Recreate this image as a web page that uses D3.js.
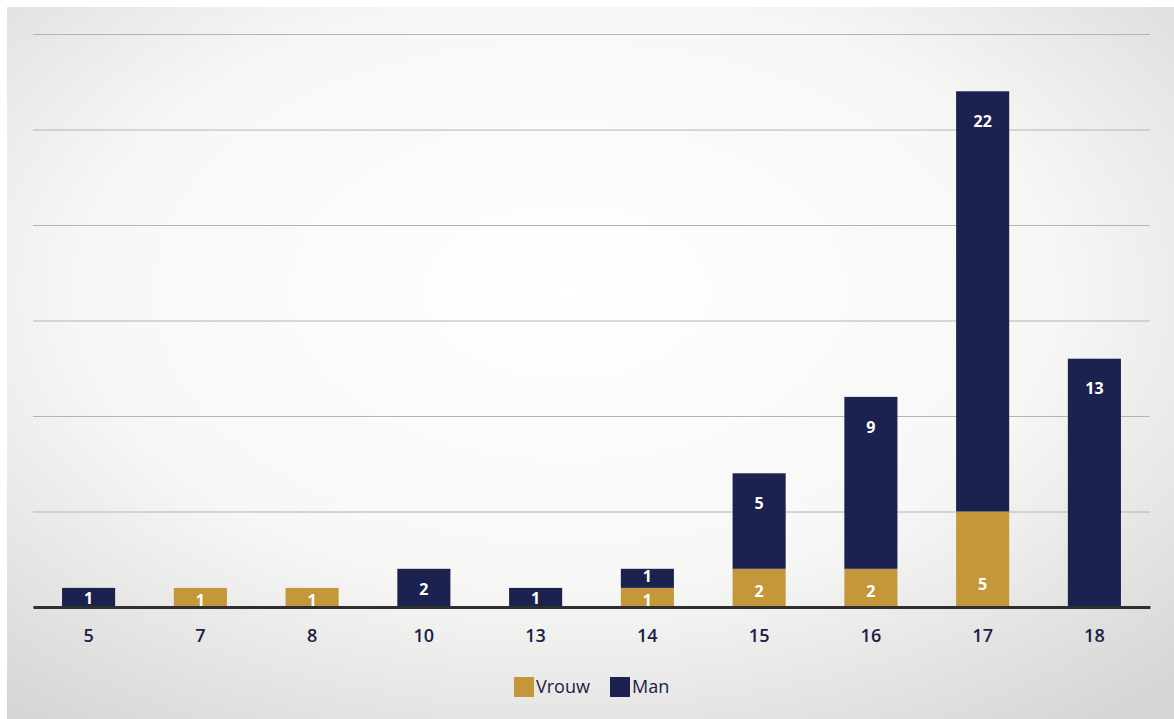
<!DOCTYPE html>
<html>
<head>
<meta charset="utf-8">
<script src="https://cdn.jsdelivr.net/npm/d3@7"></script>
<style>
  body { margin: 0; background: #fff; }
  svg { display: block; font-family: "Open Sans", "Lato", sans-serif; }
</style>
</head>
<body>
<svg id="chart" width="1174" height="719"></svg>
<script>
// data
var ages = ["5", "7", "8", "10", "13", "14", "15", "16", "17", "18"];
var vrouw = [0, 1, 1, 0, 0, 1, 2, 2, 5, 0];
var man = [1, 0, 0, 2, 1, 1, 5, 9, 22, 13];
var gridTicks = [0, 5, 10, 15, 20, 25, 30];
var seriesNames = ["Vrouw", "Man"];

var svg = d3.select("#chart"),
    margin = {top: 34, right: 24, bottom: 112, left: 33},
    width = +svg.attr("width") - margin.left - margin.right,
    height = +svg.attr("height") - margin.top - margin.bottom;

// colours
var colours = d3.scaleOrdinal().domain(seriesNames).range(["#c4983a", "#1c2250"]);

// background, a bit like the photographed slide
var defs = svg.append("defs");
var grad = defs.append("radialGradient").attr("id", "bg")
  .attr("cx", "48%").attr("cy", "40%").attr("r", "75%");
grad.append("stop").attr("offset", "0%").attr("stop-color", "#ffffff");
grad.append("stop").attr("offset", "55%").attr("stop-color", "#f7f7f5");
grad.append("stop").attr("offset", "100%").attr("stop-color", "#d6d6d4");
svg.append("rect").attr("x", 7).attr("y", 7).attr("width", 1167).attr("height", 712)
  .attr("fill", "url(#bg)");

// scales
var x = d3.scaleBand().domain(ages).range([0, width]).paddingInner(0.525).paddingOuter(0.26),
    y = d3.scaleLinear().domain([0, 30]).range([height, 0]);

var g = svg.append("g")
  .attr("transform", "translate(" + margin.left + "," + margin.top + ")");

// gridlines
g.append("g")
  .attr("class", "grid")
  .call(d3.axisLeft(y).tickValues(gridTicks).tickSize(-width).tickFormat(""))
  .call(function(s) {
    s.select(".domain").remove();
    s.selectAll("line").attr("stroke", "#b4b4b2").attr("stroke-width", 1.2);
  });

// stack data
var table = ages.map(function(a, i) { return {age: a, Vrouw: vrouw[i], Man: man[i]}; });
var stacked = d3.stack().keys(seriesNames)(table);

var layers = g.selectAll(".layer")
  .data(stacked)
  .enter().append("g")
  .attr("class", "layer")
  .attr("fill", function(d) { return colours(d.key); });

layers.selectAll("rect")
  .data(function(d) { return d.filter(function(p) { return p[1] > p[0]; }); })
  .enter().append("rect")
  .attr("x", function(d) { return x(d.data.age); })
  .attr("y", function(d) { return y(d[1]); })
  .attr("width", x.bandwidth())
  .attr("height", function(d) { return y(d[0]) - y(d[1]); });

// value labels (man near the top of its block, vrouw near the bottom)
layers.each(function(layer) {
  d3.select(this).selectAll("text")
    .data(layer.filter(function(p) { return p[1] > p[0]; }))
    .enter().append("text")
    .attr("x", function(d) { return x(d.data.age) + x.bandwidth() / 2; })
    .attr("y", function(d) {
      var top = y(d[1]), bot = y(d[0]), mid = (top + bot) / 2;
      if (layer.key === "Man") return Math.min(top + 30, d[0] > 0 ? mid - 2 : mid + 1);
      return Math.max(bot - 23, mid + 3);
    })
    .attr("dy", "0.35em")
    .attr("text-anchor", "middle")
    .attr("fill", "#ffffff")
    .attr("font-size", 16)
    .attr("font-weight", "bold")
    .text(function(d) { return d[1] - d[0]; });
});

// x axis
g.append("g")
  .attr("transform", "translate(0," + height + ")")
  .call(d3.axisBottom(x).tickSize(0).tickPadding(22))
  .call(function(s) {
    s.select(".domain").attr("stroke", "#2f2f2f").attr("stroke-width", 3);
    s.selectAll("text").attr("fill", "#1a2048").attr("font-size", 18)
      .attr("font-weight", 600)
      .attr("font-family", "\"Open Sans\", sans-serif");
  });

// legend
var legend = svg.append("g").attr("transform", "translate(514,677)");
var items = [{name: "Vrouw", dx: 0}, {name: "Man", dx: 96}];
var li = legend.selectAll("g").data(items).enter().append("g")
  .attr("transform", function(d) { return "translate(" + d.dx + ",0)"; });
li.append("rect").attr("width", 20).attr("height", 20)
  .attr("fill", function(d) { return colours(d.name); });
li.append("text").attr("x", 22).attr("y", 10).attr("dy", "0.35em")
  .attr("fill", "#1a2048").attr("font-size", 18)
  .text(function(d) { return d.name; });
</script>
</body>
</html>
